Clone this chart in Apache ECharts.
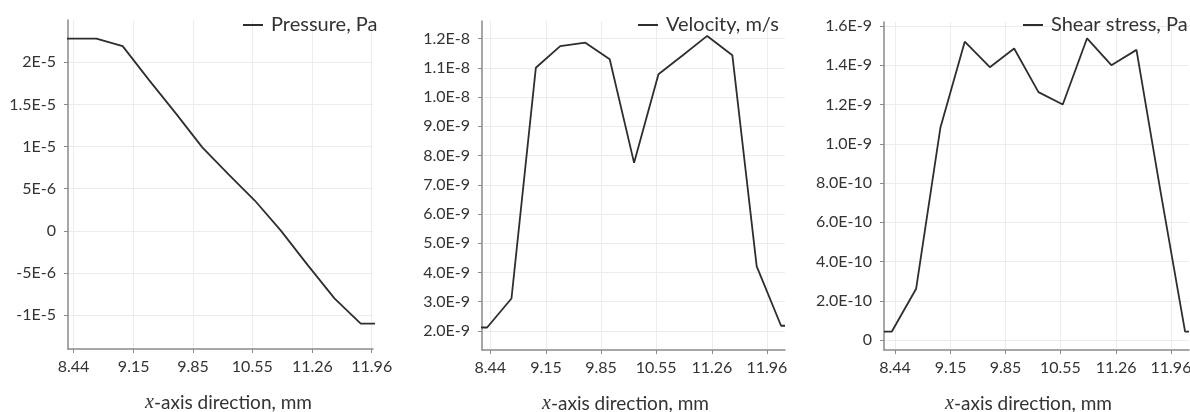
<!DOCTYPE html>
<html>
<head>
<meta charset="utf-8">
<script src="https://cdn.jsdelivr.net/npm/echarts@6/dist/echarts.min.js"></script>
<style>
    html, body { margin: 0; padding: 0; background: #fff; }
    #chart { width: 1190px; height: 412px; }
</style>
</head>
<body>
<div id="chart"></div>
<script>
// 采样位置 (mm)
var xPos = [8.30, 8.40, 8.71, 9.02, 9.33, 9.65, 9.96, 10.27, 10.58, 10.89, 11.20, 11.52, 11.83, 12.14, 12.19];
// x轴刻度
var xTicks = [8.44, 9.15, 9.85, 10.55, 11.26, 11.96];

// 压力
var pressure = [2.28e-5, 2.28e-5, 2.28e-5, 2.19e-5, 1.79e-5, 1.39e-5, 9.9e-6, 6.7e-6, 3.6e-6, 0, -4.0e-6, -8.0e-6, -1.1e-5, -1.1e-5, -1.1e-5];
var pressureTicks = [-1e-5, -5e-6, 0, 5e-6, 1e-5, 1.5e-5, 2e-5];
var pressureLabels = ['-1E-5', '-5E-6', '0', '5E-6', '1E-5', '1.5E-5', '2E-5'];

// 速度
var velocity = [2.12e-9, 2.12e-9, 3.11e-9, 1.10e-8, 1.174e-8, 1.186e-8, 1.129e-8, 7.75e-9, 1.078e-8, 1.143e-8, 1.209e-8, 1.143e-8, 4.21e-9, 2.18e-9, 2.18e-9];
var velocityTicks = [2e-9, 3e-9, 4e-9, 5e-9, 6e-9, 7e-9, 8e-9, 9e-9, 1e-8, 1.1e-8, 1.2e-8];
var velocityLabels = ['2.0E-9', '3.0E-9', '4.0E-9', '5.0E-9', '6.0E-9', '7.0E-9', '8.0E-9', '9.0E-9', '1.0E-8', '1.1E-8', '1.2E-8'];

// 剪切应力
var shear = [4.4e-11, 4.4e-11, 2.62e-10, 1.083e-9, 1.52e-9, 1.39e-9, 1.485e-9, 1.263e-9, 1.20e-9, 1.537e-9, 1.40e-9, 1.478e-9, 7.5e-10, 4.4e-11, 4.4e-11];
var shearTicks = [0, 2e-10, 4e-10, 6e-10, 8e-10, 1e-9, 1.2e-9, 1.4e-9, 1.6e-9];
var shearLabels = ['0', '2.0E-10', '4.0E-10', '6.0E-10', '8.0E-10', '1.0E-9', '1.2E-9', '1.4E-9', '1.6E-9'];

var textColor = '#333';
var axisColor = '#8a8a8a';
var gridColor = '#ececec';

// 找到刻度对应的标签
function tickLabel(value, ticks, labels) {
    var best = 0;
    for (let i = 1; i < ticks.length; i++) {
        if (Math.abs(ticks[i] - value) < Math.abs(ticks[best] - value)) {
            best = i;
        }
    }
    return labels[best];
}

function pairs(ys) {
    var out = [];
    for (let i = 0; i < xPos.length; i++) {
        out.push([xPos[i], ys[i]]);
    }
    return out;
}

// 每个面板的布局
var panels = [
    { name: 'Pressure, Pa', data: pressure, ticks: pressureTicks, labels: pressureLabels,
      left: 68, top: 20, width: 305, height: 329, xMin: 8.375, xMax: 11.975, yMin: -1.4e-5, yMax: 2.5e-5,
      legendLeft: 243, namePad: [0, 0, 0, 16] },
    { name: 'Velocity, m/s', data: velocity, ticks: velocityTicks, labels: velocityLabels,
      left: 482, top: 21, width: 303, height: 329, xMin: 8.335, xMax: 12.19, yMin: 1.35e-9, yMax: 1.26e-8,
      legendLeft: 638, namePad: [0, 16, 0, 0] },
    { name: 'Shear stress, Pa', data: shear, ticks: shearTicks, labels: shearLabels,
      left: 884, top: 22, width: 305, height: 328, xMin: 8.30, xMax: 12.19, yMin: -5e-11, yMax: 1.62e-9,
      legendLeft: 1023, namePad: [0, 16, 0, 0] }
];

var option = {
    backgroundColor: '#fff',
    animation: false,
    grid: [],
    xAxis: [],
    yAxis: [],
    legend: [],
    series: []
};

panels.forEach(function (p, i) {
    option.grid.push({
        left: p.left, top: p.top, width: p.width, height: p.height,
        containLabel: false,
        outerBoundsMode: 'none'
    });
    option.xAxis.push({
        type: 'value',
        gridIndex: i,
        min: p.xMin,
        max: p.xMax,
        axisLine: { show: true, onZero: false, lineStyle: { color: axisColor, width: 1.5 } },
        axisTick: { show: true, length: 4, customValues: xTicks, lineStyle: { color: axisColor } },
        axisLabel: {
            customValues: xTicks,
            margin: 10,
            color: textColor,
            fontFamily: 'Lato',
            fontSize: 16,
            formatter: function (v) {
                return tickLabel(v, xTicks, xTicks.map(function (t) { return t.toFixed(2); }));
            }
        },
        splitLine: { show: true, lineStyle: { color: gridColor, width: 1 } },
        name: '{i|x}-axis direction, mm',
        nameLocation: 'middle',
        nameGap: 44,
        nameTextStyle: {
            color: textColor,
            fontFamily: 'Lato',
            fontSize: 19,
            padding: p.namePad,
            rich: {
                i: { fontFamily: 'Liberation Serif', fontStyle: 'italic', fontSize: 20, color: textColor }
            }
        }
    });
    option.yAxis.push({
        type: 'value',
        gridIndex: i,
        min: p.yMin,
        max: p.yMax,
        axisLine: { show: true, lineStyle: { color: axisColor, width: 1.5 } },
        axisTick: { show: true, length: 4, customValues: p.ticks, lineStyle: { color: axisColor } },
        axisLabel: {
            customValues: p.ticks,
            margin: 12,
            color: textColor,
            fontFamily: 'Lato',
            fontSize: 16,
            formatter: function (v) {
                return tickLabel(v, p.ticks, p.labels);
            }
        },
        splitLine: { show: true, lineStyle: { color: gridColor, width: 1 } }
    });
    option.legend.push({
        data: [p.name],
        left: p.legendLeft,
        top: 15,
        padding: 0,
        icon: 'rect',
        itemWidth: 20,
        itemHeight: 2,
        textStyle: { color: textColor, fontFamily: 'Lato', fontSize: 20, padding: [0, 0, 0, 3] }
    });
    option.series.push({
        name: p.name,
        type: 'line',
        xAxisIndex: i,
        yAxisIndex: i,
        data: pairs(p.data),
        showSymbol: false,
        symbol: 'none',
        clip: true,
        lineStyle: { color: '#2e2e2e', width: 1.8 },
        itemStyle: { color: '#2e2e2e' }
    });
});

var chart = echarts.init(document.getElementById('chart'));
chart.setOption(option);
</script>
</body>
</html>
